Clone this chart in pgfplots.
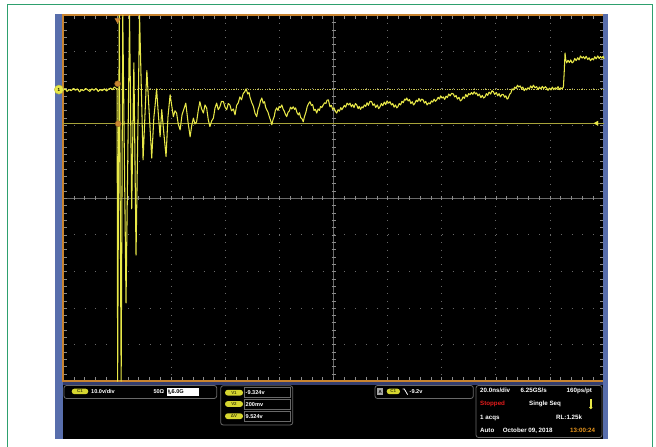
\documentclass[border=0pt]{standalone}
\usepackage{pgfplots}
\pgfplotsset{compat=1.18}
\usepackage{pgfplotstable}
\usepackage{fontspec}
\setmainfont{Liberation Sans}
\definecolor{frameGreen}{RGB}{46,160,110}
\definecolor{scopeBlue}{RGB}{88,110,172}
\definecolor{bandBlue}{RGB}{52,62,112}
\definecolor{scopeOrange}{RGB}{200,132,48}
\definecolor{gridGray}{RGB}{105,105,105}
\definecolor{tickGray}{RGB}{140,140,140}
\definecolor{traceYellow}{RGB}{232,232,72}
\definecolor{cursorYellow}{RGB}{200,196,84}
\definecolor{cursorOlive}{RGB}{168,164,58}
\definecolor{pillYellow}{RGB}{214,214,48}
\definecolor{pillText}{RGB}{70,70,10}
\definecolor{boxGray}{RGB}{105,105,105}
\definecolor{stopRed}{RGB}{228,28,28}
\definecolor{timeOrange}{RGB}{232,150,30}
\newcommand{\pa}{\fontsize{5.6}{6}\selectfont\bfseries}
\newcommand{\pb}{\fontsize{6.2}{7}\selectfont\bfseries}
\newcommand{\pl}{\fontsize{4.4}{5}\selectfont\bfseries}

% time in ns, voltage in V (10 V/div, 20 ns/div)
\pgfplotstableread{
t v
0.0 -0.2
0.8 0.2
1.5 -0.5
2.3 0.0
3.0 -0.3
3.8 0.3
4.6 -0.2
5.3 0.2
6.1 -0.6
6.9 0.0
7.6 -0.3
8.4 0.3
9.2 -0.1
9.9 -0.5
10.7 0.2
11.5 -0.2
12.2 0.3
13.0 -0.5
13.8 0.0
14.5 -0.3
15.3 0.2
16.1 -0.4
16.8 0.1
17.6 0.4
18.3 0.0
19.0 0.7
19.5 0.4
20.0 0.2
20.2 -79.7
20.8 20.3
21.5 -79.7
22.1 20.3
23.3 -58.3
24.6 20.3
25.4 -32.6
26.2 7.3
27.0 -45.2
28.3 20.3
29.6 -19.2
31.0 5.2
32.8 -18.7
33.6 -7.5
34.0 -4.7
34.6 0.2
35.2 -6.3
35.9 -12.9
36.5 -5.5
37.2 -11.3
38.1 -18.3
38.8 -7.5
39.6 -1.4
40.2 -4.4
40.8 -7.4
41.4 -5.8
42.0 -6.4
42.6 -9.4
43.3 -11.0
44.0 -6.9
44.7 -5.3
45.4 -3.7
46.2 -8.8
47.0 -12.9
47.6 -9.8
48.2 -7.8
48.8 -9.4
49.4 -8.8
50.0 -5.7
50.6 -3.3
51.2 -5.2
51.9 -6.4
52.5 -4.2
53.1 -5.0
53.7 -8.2
54.3 -10.1
55.0 -8.5
55.6 -7.8
56.2 -5.0
56.8 -3.7
57.4 -5.5
58.0 -4.7
58.6 -3.2
59.3 -3.3
59.9 -4.8
60.5 -5.5
61.1 -3.8
61.7 -4.2
62.3 -5.8
63.0 -5.3
63.6 -6.9
64.2 -4.3
64.8 -3.6
65.4 -2.0
66.0 -2.8
66.6 -1.1
67.1 -0.7
67.7 0.2
68.3 -1.2
68.8 -0.8
69.1 -2.0
69.8 -3.6
70.4 -4.6
71.0 -6.5
71.6 -7.4
72.1 -5.4
72.6 -4.4
73.0 -3.1
73.5 -2.3
74.0 -3.7
74.5 -3.3
74.9 -4.8
75.3 -5.5
75.8 -6.2
76.3 -7.5
76.7 -8.3
77.2 -9.6
77.6 -8.3
78.1 -7.3
78.5 -5.7
79.0 -5.0
79.5 -5.7
79.9 -4.6
80.4 -4.9
80.9 -4.2
81.3 -5.2
81.8 -5.9
82.2 -6.7
82.7 -7.4
83.2 -6.2
83.7 -5.8
84.1 -4.8
84.6 -5.3
85.1 -4.7
85.6 -5.4
86.0 -5.0
86.5 -6.3
87.0 -6.9
87.4 -6.3
87.9 -7.7
88.4 -8.0
88.8 -8.8
89.3 -7.3
89.8 -6.2
90.3 -4.6
90.8 -3.8
91.3 -3.3
91.8 -4.3
92.3 -4.1
92.8 -5.7
93.3 -5.4
93.8 -6.4
94.3 -5.3
94.8 -5.7
95.2 -4.6
95.7 -4.9
96.2 -4.2
96.7 -3.6
97.2 -3.8
97.6 -2.9
98.1 -2.8
98.7 -4.7
99.2 -4.3
99.7 -5.4
100.2 -5.0
100.7 -6.0
101.2 -6.4
101.7 -5.5
102.2 -5.9
102.7 -4.9
103.1 -5.5
103.5 -5.0
104.0 -4.3
104.5 -4.8
105.0 -3.7
105.6 -4.2
106.1 -3.7
106.6 -4.7
107.1 -4.1
107.6 -4.9
108.1 -3.8
108.6 -4.2
109.1 -5.2
109.5 -4.6
110.0 -5.4
110.5 -4.7
110.9 -5.0
111.4 -4.2
111.9 -4.6
112.4 -3.6
112.9 -4.3
113.5 -3.2
114.1 -3.3
114.6 -4.3
115.1 -3.9
115.6 -4.9
116.2 -4.2
116.7 -5.2
117.2 -4.7
117.7 -3.8
118.2 -4.4
118.8 -3.4
119.3 -4.1
119.8 -3.1
120.4 -3.7
120.9 -3.3
121.4 -4.2
121.9 -3.8
122.4 -4.8
122.9 -4.2
123.4 -5.0
123.8 -4.7
124.3 -3.8
124.8 -4.2
125.3 -3.2
125.8 -3.6
126.3 -2.6
126.7 -2.9
127.1 -2.3
127.6 -3.1
128.1 -2.7
128.6 -3.8
129.1 -3.3
129.6 -4.2
130.1 -3.7
130.6 -2.9
131.1 -3.3
131.6 -2.4
132.1 -3.2
132.6 -2.6
133.1 -2.8
133.6 -3.7
134.1 -3.2
134.6 -4.2
135.2 -3.6
135.7 -3.9
136.2 -3.1
136.7 -3.4
137.2 -2.6
137.7 -3.2
138.2 -2.8
138.7 -2.1
139.2 -2.6
139.6 -1.7
140.1 -2.3
140.6 -2.0
141.1 -2.7
141.6 -1.8
142.1 -2.2
142.6 -1.2
143.1 -1.7
143.7 -1.0
144.3 -1.2
144.8 -2.0
145.3 -1.6
145.8 -2.6
146.4 -2.1
146.9 -3.1
147.4 -2.8
147.9 -2.0
148.4 -2.4
148.9 -1.3
149.4 -2.0
150.0 -1.1
150.5 -1.4
151.0 -0.8
151.5 -1.3
152.0 -0.6
152.5 -1.2
152.9 -0.9
153.4 -1.7
153.9 -1.2
154.5 -2.2
155.0 -1.6
155.5 -2.3
156.0 -2.0
156.5 -1.1
157.0 -1.6
157.5 -0.7
158.1 -1.2
158.6 -0.3
159.1 -0.6
159.6 -1.3
160.2 -0.8
160.7 -1.7
161.2 -1.1
161.7 -2.0
162.3 -1.3
162.8 -1.4
163.3 -2.1
163.7 -1.7
164.2 -2.6
164.6 -2.3
165.1 -1.3
165.6 -0.9
166.0 0.2
166.5 -0.1
167.0 0.7
167.5 0.3
168.0 1.2
168.5 0.7
169.0 1.0
169.5 0.3
170.0 0.7
170.5 -0.3
171.0 0.3
171.4 -0.1
171.9 0.5
172.4 0.2
172.9 1.0
173.4 0.4
173.9 1.2
174.5 0.5
175.1 0.8
175.6 0.0
176.1 0.7
176.7 0.2
177.2 0.9
177.7 0.3
178.3 0.8
178.8 0.4
179.3 -0.2
179.8 0.4
180.4 -0.1
180.9 0.7
181.4 0.0
182.0 0.5
182.5 0.2
183.0 0.8
183.5 0.0
184.0 0.5
184.5 0.2
185.0 0.7
185.3 4.9
185.6 10.0
185.9 8.0
186.2 7.3
186.7 8.0
187.2 7.4
187.7 8.1
188.2 7.3
188.7 7.6
189.2 8.5
189.7 7.9
190.3 8.7
190.8 8.1
191.3 9.2
191.9 8.6
192.4 9.0
192.9 8.4
193.4 9.1
194.0 8.2
194.5 8.7
195.0 7.9
195.6 8.5
196.1 8.1
196.6 9.0
197.1 8.4
197.7 9.2
198.2 8.5
198.7 9.0
199.2 8.6
199.7 9.1
200.0 8.4
}\trace

\begin{document}
\begin{tikzpicture}
\useasboundingbox (0,0) rectangle (656pt,447pt);
\fill[white] (0,0) rectangle (656pt,447pt);
\begin{scope}[shift={(0pt,447pt)},x=1pt,y=-1pt]
  \draw[frameGreen, line width=1.3pt] (7.5,452) -- (7.5,4.5) -- (652.5,4.5) -- (652.5,452);
  \fill[black] (55,14.5) rectangle (608,439);
  \fill[scopeBlue] (55,14.5) rectangle (62.5,439);
  \fill[scopeBlue] (603,14.5) rectangle (608,439);
  \fill[bandBlue] (62.5,381.8) rectangle (603,385);
  % graticule
  \foreach \k in {1,2,3,4,6,7,8,9} {
    \draw[gridGray, line width=0.8pt, dash pattern=on 0.8pt off 6.52pt] ({63+54.1*\k},15.3) -- ({63+54.1*\k},381.3);
    \draw[gridGray, line width=0.8pt, dash pattern=on 0.8pt off 10.02pt] (63,{15.3+36.6*\k}) -- (603,{15.3+36.6*\k});
  }
  \draw[gridGray, line width=0.5pt] (63,198.3) -- (603,198.3);
  \draw[gridGray, line width=0.5pt] (333.5,15.3) -- (333.5,381.3);
  \foreach \i in {1,...,49} {
    \draw[tickGray, line width=0.5pt] ({63+10.82*\i},196.3) -- ++(0,4);
    \draw[tickGray, line width=0.5pt] ({63+10.82*\i},16.3) -- ++(0,3);
    \draw[tickGray, line width=0.5pt] ({63+10.82*\i},380) -- ++(0,-3);
    \draw[tickGray, line width=0.5pt] (331.5,{15.3+7.32*\i}) -- ++(4,0);
    \draw[tickGray, line width=0.5pt] (63.5,{15.3+7.32*\i}) -- ++(3,0);
    \draw[tickGray, line width=0.5pt] (603,{15.3+7.32*\i}) -- ++(-3,0);
  }
  \fill[scopeOrange] (62,14.5) rectangle (603,16.3);
  \fill[scopeOrange] (62,14.5) rectangle (63.5,381.8);
  \fill[scopeOrange] (62,380) rectangle (603,381.8);
\end{scope}

\begin{axis}[at={(63pt,65.7pt)}, anchor=south west, width=541pt, height=366pt,
  scale only axis, xmin=0, xmax=200, ymin=-79.7, ymax=20.3, hide axis, clip=false]
  \addplot[cursorYellow, line width=0.7pt, dash pattern=on 1.2pt off 1.2pt] coordinates {(0,0.2) (200,0.2)};
  \addplot[cursorOlive, line width=0.8pt] coordinates {(0,-9.324) (200,-9.324)};
  \addplot[traceYellow, line width=1.05pt, line join=round] table[x=t,y=v] {\trace};
  \addplot[only marks, mark=*, mark size=3pt, mark options={fill=scopeOrange, draw=scopeOrange!70!black}] coordinates {(20.2,1.6) (20.4,-9.324)};
  \addplot[only marks, mark=triangle*, mark size=3.2pt, mark options={rotate=180, fill=scopeOrange, draw=scopeOrange}] coordinates {(20.2,19.0)};
  \addplot[only marks, mark=triangle*, mark size=2.6pt, mark options={rotate=90, fill=traceYellow, draw=traceYellow}] coordinates {(197.3,-9.2)};
  \addplot[only marks, mark=*, mark size=4.6pt, mark options={fill=traceYellow, draw=traceYellow!80!black},
    nodes near coords={1}, every node near coord/.append style={anchor=center, font=\pl, text=black, inner sep=0pt}] coordinates {(-1.5,0)};
\end{axis}

\begin{scope}[shift={(0pt,447pt)},x=1pt,y=-1pt]
  % box 1
  \draw[boxGray, line width=0.8pt, rounded corners=2.5pt] (64,385.5) rectangle (216.7,398.5);
  \fill[pillYellow, rounded corners=2.8pt] (71.7,388.6) rectangle (88.3,394.2);
  \node[font=\pl, text=pillText, inner sep=0] at (80,391.4) {C1};
  \node[anchor=west, inner sep=0, text=white, font=\pa] at (91,391.6) {10.0v/div};
  \node[anchor=west, inner sep=0, text=white, font=\pa] at (153.3,391.6) {50Ω};
  \fill[white] (167,387.8) rectangle (199,396.5);
  \node[anchor=west, inner sep=0, text=black, font=\pa] at (167.6,392.2) {\raisebox{1.3pt}{\fontsize{3.4}{4}\selectfont B}\kern-1.8pt\raisebox{-1.6pt}{\fontsize{3.4}{4}\selectfont W}6.0G};
  % box 2
  \draw[boxGray, line width=0.8pt, rounded corners=2.5pt] (220.7,385.7) rectangle (292.7,425);
  \foreach \yy/\lab/\val in {392.7/V1/-9.324v, 404/V2/200mv, 416.2/ΔV/9.524v} {
    \draw[boxGray, line width=0.6pt] (244,{\yy-5}) rectangle (290.7,{\yy+5});
    \fill[pillYellow, rounded corners=2.8pt] (225,{\yy-2.9}) rectangle (243,{\yy+2.9});
    \node[font=\pl, text=pillText, inner sep=0] at (234,\yy) {\lab};
    \node[anchor=west, inner sep=0, text=white, font=\pa] at (245.5,{\yy+0.2}) {\val};
  }
  % box 3
  \draw[boxGray, line width=0.8pt, rounded corners=2.5pt] (375,385.5) rectangle (473.3,398.5);
  \fill[gray!70] (376.8,388.3) rectangle (383.4,394.6);
  \node[font=\pl, text=black, inner sep=0] at (380.1,391.5) {A};
  \fill[pillYellow, rounded corners=2.8pt] (386.7,388.6) rectangle (400,394.2);
  \node[font=\pl, text=pillText, inner sep=0] at (393.3,391.4) {C1};
  \draw[white, line width=0.8pt] (402.5,389) -- (404.3,389) -- (407.6,394.6);
  \node[anchor=west, inner sep=0, text=white, font=\pa] at (409.5,391.6) {-9.2v};
  % box 4
  \draw[boxGray, line width=0.8pt, rounded corners=2.5pt] (476,385.5) rectangle (602,437.5);
  \node[anchor=west, inner sep=0, text=white, font=\pb] at (480,390.8) {20.0ns/div};
  \node[anchor=west, inner sep=0, text=white, font=\pb] at (520.5,390.8) {6.25GS/s};
  \node[anchor=west, inner sep=0, text=white, font=\pb] at (566.5,390.8) {160ps/pt};
  \node[anchor=west, inner sep=0, text=stopRed, font=\pb] at (480,404.3) {Stopped};
  \node[anchor=west, inner sep=0, text=white, font=\pb] at (529,404.3) {Single Seq};
  \fill[traceYellow] (589.8,399.5) rectangle (591.8,407);
  \fill[traceYellow] (590.8,407.6) circle (1.7);
  \node[anchor=west, inner sep=0, text=white, font=\pb] at (480,417.7) {1 acqs};
  \node[anchor=west, inner sep=0, text=white, font=\pb] at (556,417.7) {RL:1.25k};
  \node[anchor=west, inner sep=0, text=white, font=\pb] at (480,430.5) {Auto};
  \node[anchor=west, inner sep=0, text=white, font=\pb] at (502.7,430.5) {October 09, 2018};
  \node[anchor=west, inner sep=0, text=timeOrange, font=\pb] at (570,430.5) {13:00:24};
\end{scope}
\end{tikzpicture}
\end{document}
